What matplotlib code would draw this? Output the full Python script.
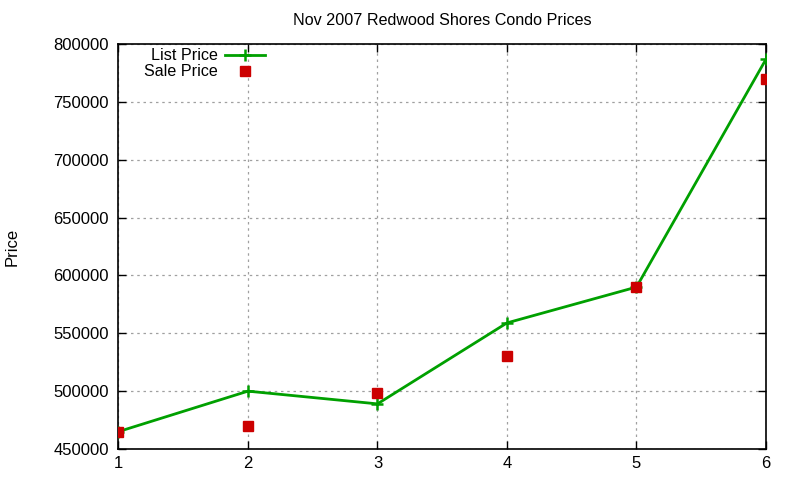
import matplotlib
matplotlib.use('Agg')
import matplotlib.pyplot as plt
from matplotlib.lines import Line2D

plt.rcParams['font.family'] = ['Liberation Sans', 'DejaVu Sans']

# data
listing = [1, 2, 3, 4, 5, 6]
list_price = [465000, 500000, 489000, 559000, 590000, 787000]
sale_price = [465000, 470000, 498000, 530000, 590000, 770000]

fig = plt.figure(figsize=(8, 4.8), dpi=100)
ax = fig.add_axes([0.148, 0.0646, 0.8095, 0.8434])

ax.plot(listing, list_price, color='#00a000', lw=2, marker='+', ms=9, mew=1.8, zorder=3)
ax.plot(listing, sale_price, ls='none', marker='s', ms=7, color='#cc0000', mec='#cc0000', zorder=4)

ax.set_xlim(1, 6)
ax.set_ylim(450000, 800000)
ax.set_xticks(listing)
ax.set_yticks(range(450000, 800001, 50000))
ax.ticklabel_format(style='plain', axis='y')
ax.tick_params(direction='in', top=True, right=True, length=6, labelsize=12, width=1)
ax.tick_params(axis='y', pad=7)
ax.tick_params(axis='x', pad=5)
ax.grid(True, ls=(0, (2, 3)), color='#a0a0a0', lw=0.9)
for s in ax.spines.values():
    s.set_linewidth(1.2)

ax.set_title('Nov 2007 Redwood Shores Condo Prices', fontsize=11.6, pad=14)
fig.text(0.015, 0.485, 'Price', rotation=90, va='center', ha='center', fontsize=12)

# gnuplot style key, text right aligned before the sample
ax.text(0.153, 0.973, 'List Price', transform=ax.transAxes, ha='right', va='center', fontsize=11.6)
ax.text(0.153, 0.933, 'Sale Price', transform=ax.transAxes, ha='right', va='center', fontsize=11.6)
ax.add_line(Line2D([0.165, 0.227], [0.973, 0.973], transform=ax.transAxes, color='#00a000', lw=2))
ax.add_line(Line2D([0.196], [0.973], transform=ax.transAxes, color='#00a000', marker='+', ms=9, mew=1.8))
ax.add_line(Line2D([0.196], [0.933], transform=ax.transAxes, color='#cc0000', marker='s', ms=7, ls='none'))

fig.savefig('out.png', dpi=100)
